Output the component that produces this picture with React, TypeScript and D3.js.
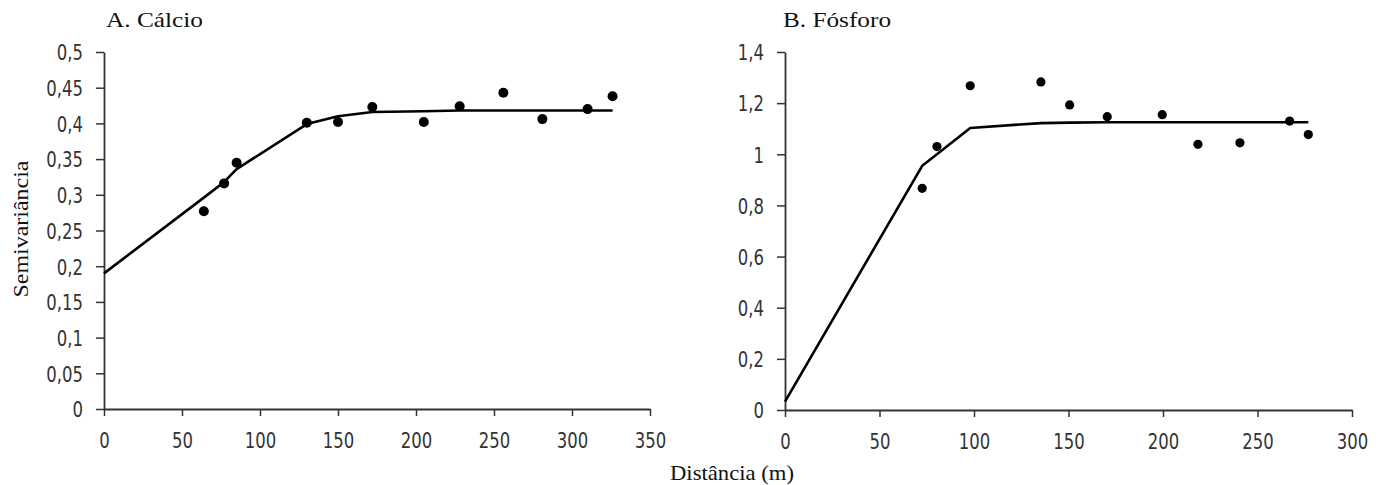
import React, { useRef, useEffect } from 'react';
import * as d3 from 'd3';

// A. Cálcio - experimental semivariogram + fitted model
const calcioLag = [64, 77, 85, 130, 150, 172, 205, 228, 256, 281, 310, 326];
const calcioGamma = [0.277, 0.316, 0.345, 0.401, 0.402, 0.423, 0.402, 0.424, 0.443, 0.406, 0.42, 0.438];
const calcioModelLag = [0, 64, 77, 85, 130, 150, 172, 205, 228, 256, 281, 310, 326];
const calcioModel = [0.19, 0.296, 0.318, 0.336, 0.399, 0.41, 0.416, 0.417, 0.418, 0.418, 0.418, 0.418, 0.418];
const calcioXTicks = [0, 50, 100, 150, 200, 250, 300, 350];
const calcioYTicks = [0, 0.05, 0.1, 0.15, 0.2, 0.25, 0.3, 0.35, 0.4, 0.45, 0.5];

// B. Fósforo
const fosforoLag = [72.6, 80.4, 98, 135.4, 150.6, 170.5, 199.6, 218.5, 240.7, 267, 276.9];
const fosforoGamma = [0.867, 1.03, 1.268, 1.283, 1.193, 1.147, 1.155, 1.039, 1.045, 1.13, 1.077];
const fosforoModelLag = [0, 72.6, 80.4, 98, 135.4, 150.6, 170.5, 199.6, 218.5, 240.7, 267, 276.9];
const fosforoModel = [0.033, 0.955, 1.0, 1.103, 1.122, 1.124, 1.125, 1.125, 1.125, 1.125, 1.125, 1.125];
const fosforoXTicks = [0, 50, 100, 150, 200, 250, 300];
const fosforoYTicks = [0, 0.2, 0.4, 0.6, 0.8, 1, 1.2, 1.4];

const tickFont = 'DejaVu Sans, Tahoma, sans-serif';
const serifFont = 'Liberation Serif, Times New Roman, serif';
const stretch = 1.32; // tick labels in the source are tall and narrow
const fs = 16.5;

const fmt = (d: number) => String(d).replace('.', ',');

type PanelProps = {
  lag: number[];
  gamma: number[];
  modelLag: number[];
  model: number[];
  xTicks: number[];
  yTicks: number[];
  x0: number;
  x1: number;
  y0: number;
  y1: number;
  r: number;
};

const Panel = ({ lag, gamma, modelLag, model, xTicks, yTicks, x0, x1, y0, y1, r }: PanelProps) => {
  const ref = useRef<SVGGElement>(null);

  useEffect(() => {
    const g = d3.select(ref.current);
    g.selectAll('*').remove();

    const x = d3.scaleLinear().domain([xTicks[0], xTicks[xTicks.length - 1]]).range([x0, x1]);
    const y = d3.scaleLinear().domain([yTicks[0], yTicks[yTicks.length - 1]]).range([y0, y1]);

    const yAxis = d3.axisLeft(y).tickValues(yTicks).tickFormat(fmt as any).tickSize(8).tickSizeOuter(0);
    const gy = g.append('g').attr('transform', `translate(${x0},0)`).call(yAxis);
    gy.selectAll('text')
      .attr('x', -21)
      .attr('dy', '0.36em')
      .attr('transform', `scale(1,${stretch})`)
      .attr('y', 0);

    const xAxis = d3.axisBottom(x).tickValues(xTicks).tickFormat(fmt as any).tickSize(7).tickSizeOuter(0);
    const gx = g.append('g').attr('transform', `translate(0,${y0})`).call(xAxis);
    gx.selectAll('text')
      .attr('dy', 0)
      .attr('y', 39 / stretch)
      .attr('transform', `scale(1,${stretch})`);

    [gx, gy].forEach((a) => {
      a.attr('font-family', tickFont).attr('font-size', fs);
      a.selectAll('text').attr('fill', '#333');
      a.selectAll('line').attr('stroke', '#333').attr('stroke-width', 1.5);
      a.select('.domain').attr('stroke', '#333').attr('stroke-width', 1.8);
    });

    const pts = modelLag.map((d, i) => [d, model[i]] as [number, number]);
    const modelLine = d3.line<[number, number]>()
      .x((d) => x(d[0]))
      .y((d) => y(d[1]));

    g.append('path')
      .datum(pts)
      .attr('d', modelLine)
      .attr('fill', 'none')
      .attr('stroke', '#000')
      .attr('stroke-width', 2.6)
      .attr('stroke-linejoin', 'round');

    g.selectAll('.dot')
      .data(lag.map((d, i) => [d, gamma[i]]))
      .join('circle')
      .attr('class', 'dot')
      .attr('cx', (d) => x(d[0]))
      .attr('cy', (d) => y(d[1]))
      .attr('r', r)
      .attr('fill', '#000');
  }, []);

  return <g ref={ref} />;
};

const App = () => {
  return (
    <svg
      width={1383}
      height={485}
      style={{ position: 'absolute', left: 0, top: 0, background: '#fff' }}
    >
      <Panel
        lag={calcioLag}
        gamma={calcioGamma}
        modelLag={calcioModelLag}
        model={calcioModel}
        xTicks={calcioXTicks}
        yTicks={calcioYTicks}
        x0={104}
        x1={650}
        y0={409}
        y1={52}
        r={5}
      />
      <Panel
        lag={fosforoLag}
        gamma={fosforoGamma}
        modelLag={fosforoModelLag}
        model={fosforoModel}
        xTicks={fosforoXTicks}
        yTicks={fosforoYTicks}
        x0={785}
        x1={1352}
        y0={410}
        y1={52}
        r={4.6}
      />
      <g fontFamily={serifFont} fontSize={22} fill="#111">
        <text x={106} y={27} textLength={97} lengthAdjust="spacingAndGlyphs">A. Cálcio</text>
        <text x={783} y={27} textLength={108} lengthAdjust="spacingAndGlyphs">B. Fósforo</text>
        <text x={670} y={480} textLength={124} lengthAdjust="spacingAndGlyphs">Distância (m)</text>
        <text
          transform="translate(28,229) rotate(-90)"
          textAnchor="middle"
          textLength={137}
          lengthAdjust="spacingAndGlyphs"
        >
          Semivariância
        </text>
      </g>
    </svg>
  );
};

export default App;
